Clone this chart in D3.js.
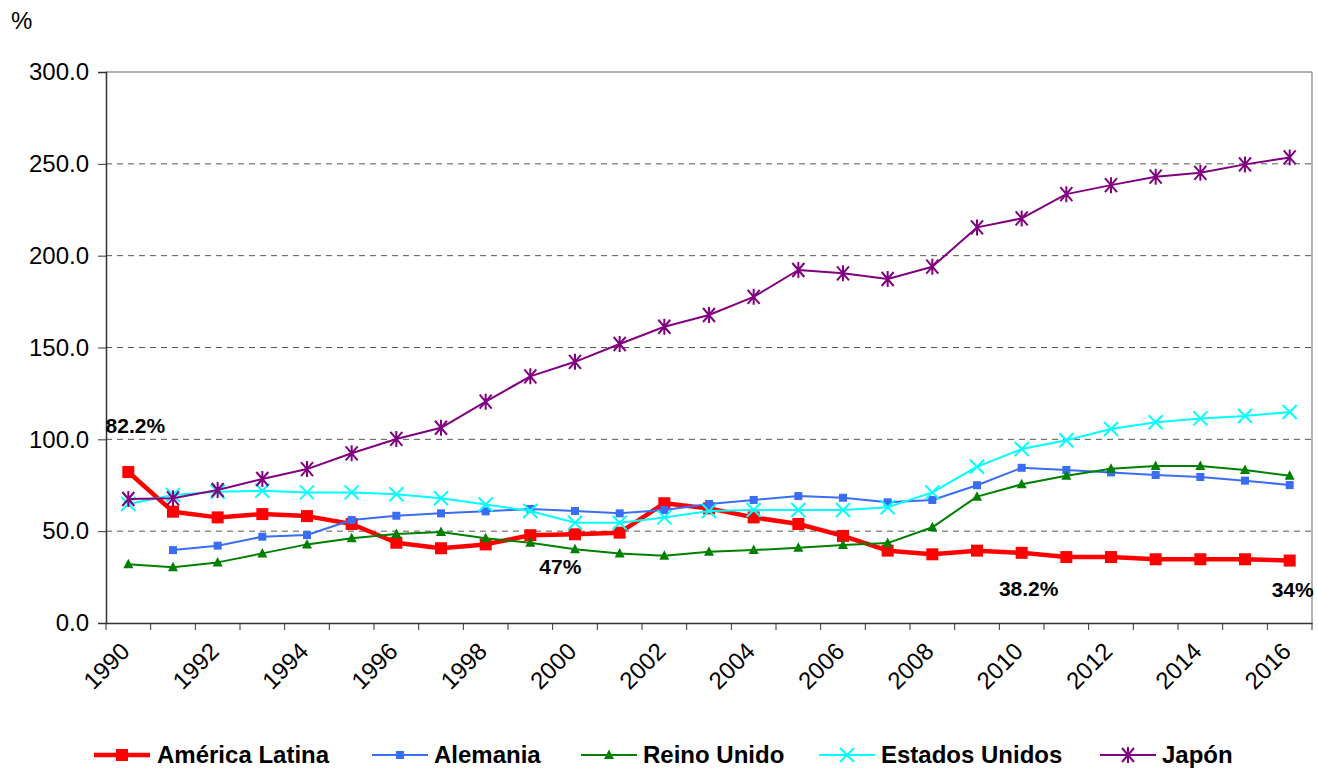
<!DOCTYPE html>
<html><head><meta charset="utf-8">
<script src="https://cdn.jsdelivr.net/npm/d3@7"></script>
<style>body{margin:0;background:#fff;} text{font-family:"Liberation Sans",Arial,sans-serif;}</style>
</head><body><svg id="c" width="1318" height="768"></svg>
<script>
const years = d3.range(1990, 2017).map(String);
const americaLatina = [82.2,60.6,57.5,59.3,58.2,53.9,43.7,40.7,42.8,47.8,48.3,49.2,65.2,62.4,57.5,53.9,47.4,39.4,37.4,39.4,38.2,35.9,35.9,34.7,34.7,34.7,34.0];
const alemania = [null,39.7,42.1,47.0,47.9,56.1,58.4,59.7,60.8,62.1,61.0,59.7,61.5,64.8,67.0,69.1,68.2,65.7,67.0,75.0,84.5,83.3,82.0,80.6,79.5,77.5,75.1];
const reinoUnido = [32.0,30.3,33.0,37.9,42.8,46.1,48.4,49.5,46.1,43.7,40.1,37.9,36.6,38.8,39.7,41.0,42.5,43.5,52.1,68.8,75.5,80.2,84.0,85.5,85.5,83.3,80.2];
const estadosUnidos = [64.8,69.7,71.5,72.0,71.1,71.1,70.1,67.9,64.5,61.0,54.6,54.6,57.5,61.0,61.5,61.5,61.5,63.0,71.1,85.1,94.7,99.5,105.6,109.3,111.4,112.7,114.9];
const japon = [67.5,67.9,72.4,78.4,83.8,92.4,100.2,106.3,120.5,134.3,142.2,151.9,161.3,167.7,177.6,192.2,190.4,187.3,194.0,215.4,220.3,233.5,238.4,243.0,245.1,249.7,253.5];
const yTicks = [0,50,100,150,200,250,300];
const seriesNames = ["América Latina","Alemania","Reino Unido","Estados Unidos","Japón"];
const annotations = [{year:"1990",text:"82.2%"},{year:"1999",text:"47%"},{year:"2010",text:"38.2%"},{year:"2016",text:"34%"}];

const FONT = "'Liberation Sans',Arial,sans-serif";
const svg = d3.select("#c");
const L=106, R=1312, T=72, B=623;
const x = d3.scaleBand().domain(years).range([L,R]);
const y = d3.scaleLinear().domain([0,300]).range([B,T]);

// gridlines
svg.append("g").selectAll("line").data(yTicks.filter(v=>v>0 && v<300)).join("line")
  .attr("x1",L).attr("x2",R).attr("y1",d=>y(d)).attr("y2",d=>y(d))
  .attr("stroke","#555").attr("stroke-width",1).attr("stroke-dasharray","6,5");
// frame top/right
svg.append("line").attr("x1",L).attr("x2",R).attr("y1",y(300)).attr("y2",y(300)).attr("stroke","#999").attr("stroke-width",1.5);
svg.append("line").attr("x1",R).attr("x2",R).attr("y1",y(300)).attr("y2",y(0)).attr("stroke","#999").attr("stroke-width",1.5);

// y axis
const ya = svg.append("g").attr("transform",`translate(${L},0)`)
  .call(d3.axisLeft(y).tickValues(yTicks).tickFormat(d3.format(".1f")).tickSize(8).tickPadding(9));
ya.select(".domain").attr("stroke","#333").attr("stroke-width",1.5);
ya.selectAll(".tick line").attr("stroke","#333");
ya.selectAll("text").attr("font-size",24).attr("fill","#000").style("font-family",FONT);

// x axis
const xa = svg.append("g").attr("transform",`translate(0,${B})`)
  .call(d3.axisBottom(x).tickSize(0).tickFormat(""));
xa.select(".domain").attr("stroke","#333").attr("stroke-width",1.5);
svg.append("g").selectAll("line").data(d3.range(years.length+1)).join("line")
  .attr("x1",i=>L+i*x.step()).attr("x2",i=>L+i*x.step()).attr("y1",B).attr("y2",B+7)
  .attr("stroke","#333").attr("stroke-width",1);
svg.append("g").selectAll("text").data(years.filter((d,i)=>i%2===0)).join("text")
  .attr("transform",d=>`translate(${x(d)+x.bandwidth()/2-9},${B+18}) rotate(-45)`)
  .attr("text-anchor","end").attr("dy","0.7em").attr("font-size",24).text(d=>d);

svg.append("text").attr("x",11).attr("y",29).attr("font-size",24).text("%");

const cx = d => x(d)+x.bandwidth()/2;
const defs = [
 {name:seriesNames[0], data:americaLatina, color:"#FF0000", w:4.5, marker:"bigsquare"},
 {name:seriesNames[1], data:alemania, color:"#3A6CF4", w:2, marker:"square"},
 {name:seriesNames[2], data:reinoUnido, color:"#008000", w:2, marker:"triangle"},
 {name:seriesNames[3], data:estadosUnidos, color:"#00FFFF", w:2, marker:"x"},
 {name:seriesNames[4], data:japon, color:"#800080", w:2, marker:"star"}
];
function drawMarker(g, type, color){
  if(type==="bigsquare") g.append("rect").attr("x",-6).attr("y",-6).attr("width",12).attr("height",12).attr("fill",color);
  else if(type==="square") g.append("rect").attr("x",-4).attr("y",-4).attr("width",8).attr("height",8).attr("fill",color);
  else if(type==="triangle") g.append("path").attr("d","M0,-5.5L5,4L-5,4Z").attr("fill",color);
  else if(type==="x") g.append("path").attr("d","M-7,-7L7,7M-7,7L7,-7").attr("stroke",color).attr("stroke-width",2);
  else if(type==="star") g.append("path").attr("d","M-6,-7L6,7M-6,7L6,-7M0,-8L0,8").attr("stroke",color).attr("stroke-width",2);
}
defs.forEach(s=>{
  const pts = years.map((yr,i)=>({yr, v:s.data[i]})).filter(p=>p.v!=null);
  const line = d3.line().x(p=>cx(p.yr)).y(p=>y(p.v));
  svg.append("path").datum(pts).attr("d",line).attr("fill","none").attr("stroke",s.color).attr("stroke-width",s.w).attr("stroke-linejoin","round");
  const mg = svg.append("g");
  pts.forEach(p=>{ const g=mg.append("g").attr("transform",`translate(${cx(p.yr)},${y(p.v)})`); drawMarker(g,s.marker,s.color); });
});

// annotations (offsets in px from the annotated point)
const annPos = {"1990":[7,-39],"1999":[30,39],"2010":[7,43],"2016":[3,36]};
annotations.forEach(a=>{
  const i = years.indexOf(a.year);
  const v = americaLatina[i];
  const off = annPos[a.year];
  svg.append("text").attr("x",cx(a.year)+off[0]).attr("y",y(v)+off[1])
    .attr("text-anchor","middle").attr("font-size",21).attr("font-weight","bold").text(a.text);
});

// legend
const legendX = [94,372,581,819,1100];
const lg = svg.append("g");
defs.forEach((s,i)=>{
  const g = lg.append("g").attr("transform",`translate(${legendX[i]},755)`);
  g.append("line").attr("x1",0).attr("x2",56).attr("y1",0).attr("y2",0).attr("stroke",s.color).attr("stroke-width",s.w);
  const mg = g.append("g").attr("transform",`translate(28,0)`);
  drawMarker(mg,s.marker,s.color);
  g.append("text").attr("x",i===0?63:62).attr("y",8).attr("font-size",24).attr("font-weight","bold").text(s.name);
});
</script></body></html>
